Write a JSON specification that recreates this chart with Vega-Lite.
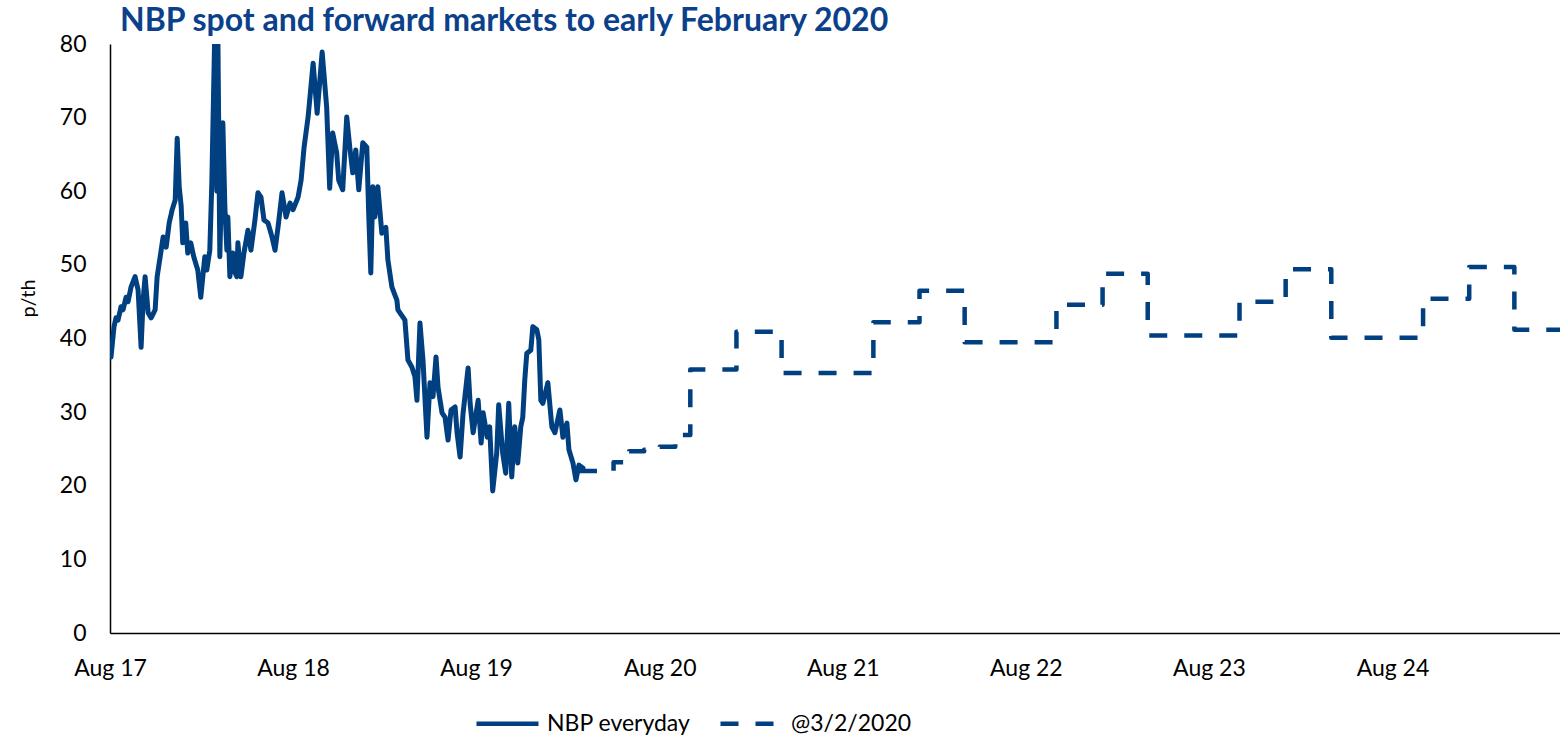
{
  "$schema": "https://vega.github.io/schema/vega-lite/v6.json",
  "width": 1450,
  "height": 589,
  "autosize": {"type": "none"},
  "padding": {"left": 110, "top": 44, "right": 0, "bottom": 105},
  "background": "white",
  "config": {"view": {"stroke": null}, "font": "Lato"},
  "title": {"text": "NBP spot and forward markets to early February 2020", "anchor": "start", "frame": "group", "dx": 10, "offset": -5, "fontSize": 32, "font": "Lato", "fontWeight": "bold", "color": "#0b418a"},
  "data": {"values": [
    {"series": "NBP everyday", "date": "2017-08-03", "value": 37.5},
    {"series": "NBP everyday", "date": "2017-08-09", "value": 41.6},
    {"series": "NBP everyday", "date": "2017-08-13", "value": 42.8},
    {"series": "NBP everyday", "date": "2017-08-17", "value": 42.5},
    {"series": "NBP everyday", "date": "2017-08-23", "value": 44.3},
    {"series": "NBP everyday", "date": "2017-08-27", "value": 43.9},
    {"series": "NBP everyday", "date": "2017-09-02", "value": 45.6},
    {"series": "NBP everyday", "date": "2017-09-06", "value": 45.0},
    {"series": "NBP everyday", "date": "2017-09-12", "value": 47.0},
    {"series": "NBP everyday", "date": "2017-09-20", "value": 48.4},
    {"series": "NBP everyday", "date": "2017-09-26", "value": 46.6},
    {"series": "NBP everyday", "date": "2017-10-02", "value": 38.8},
    {"series": "NBP everyday", "date": "2017-10-06", "value": 45.2},
    {"series": "NBP everyday", "date": "2017-10-10", "value": 48.4},
    {"series": "NBP everyday", "date": "2017-10-16", "value": 43.5},
    {"series": "NBP everyday", "date": "2017-10-22", "value": 42.8},
    {"series": "NBP everyday", "date": "2017-10-30", "value": 43.9},
    {"series": "NBP everyday", "date": "2017-11-03", "value": 48.4},
    {"series": "NBP everyday", "date": "2017-11-09", "value": 51.1},
    {"series": "NBP everyday", "date": "2017-11-15", "value": 53.8},
    {"series": "NBP everyday", "date": "2017-11-21", "value": 52.4},
    {"series": "NBP everyday", "date": "2017-11-27", "value": 55.7},
    {"series": "NBP everyday", "date": "2017-12-03", "value": 57.5},
    {"series": "NBP everyday", "date": "2017-12-09", "value": 58.8},
    {"series": "NBP everyday", "date": "2017-12-13", "value": 67.2},
    {"series": "NBP everyday", "date": "2017-12-17", "value": 60.6},
    {"series": "NBP everyday", "date": "2017-12-21", "value": 57.9},
    {"series": "NBP everyday", "date": "2017-12-24", "value": 53.0},
    {"series": "NBP everyday", "date": "2017-12-30", "value": 55.7},
    {"series": "NBP everyday", "date": "2018-01-03", "value": 51.6},
    {"series": "NBP everyday", "date": "2018-01-09", "value": 53.0},
    {"series": "NBP everyday", "date": "2018-01-15", "value": 51.1},
    {"series": "NBP everyday", "date": "2018-01-23", "value": 49.3},
    {"series": "NBP everyday", "date": "2018-01-29", "value": 45.6},
    {"series": "NBP everyday", "date": "2018-02-06", "value": 51.1},
    {"series": "NBP everyday", "date": "2018-02-10", "value": 49.3},
    {"series": "NBP everyday", "date": "2018-02-16", "value": 52.0},
    {"series": "NBP everyday", "date": "2018-02-20", "value": 61.1},
    {"series": "NBP everyday", "date": "2018-02-26", "value": 82.0},
    {"series": "NBP everyday", "date": "2018-03-02", "value": 60.0},
    {"series": "NBP everyday", "date": "2018-03-04", "value": 82.0},
    {"series": "NBP everyday", "date": "2018-03-08", "value": 51.1},
    {"series": "NBP everyday", "date": "2018-03-14", "value": 69.3},
    {"series": "NBP everyday", "date": "2018-03-18", "value": 57.9},
    {"series": "NBP everyday", "date": "2018-03-22", "value": 52.0},
    {"series": "NBP everyday", "date": "2018-03-24", "value": 56.5},
    {"series": "NBP everyday", "date": "2018-03-28", "value": 48.4},
    {"series": "NBP everyday", "date": "2018-04-03", "value": 51.6},
    {"series": "NBP everyday", "date": "2018-04-07", "value": 49.0},
    {"series": "NBP everyday", "date": "2018-04-11", "value": 48.4},
    {"series": "NBP everyday", "date": "2018-04-13", "value": 53.0},
    {"series": "NBP everyday", "date": "2018-04-19", "value": 48.4},
    {"series": "NBP everyday", "date": "2018-04-25", "value": 51.6},
    {"series": "NBP everyday", "date": "2018-05-03", "value": 54.7},
    {"series": "NBP everyday", "date": "2018-05-09", "value": 52.0},
    {"series": "NBP everyday", "date": "2018-05-17", "value": 56.1},
    {"series": "NBP everyday", "date": "2018-05-23", "value": 59.8},
    {"series": "NBP everyday", "date": "2018-05-29", "value": 59.2},
    {"series": "NBP everyday", "date": "2018-06-04", "value": 56.1},
    {"series": "NBP everyday", "date": "2018-06-12", "value": 55.7},
    {"series": "NBP everyday", "date": "2018-06-20", "value": 53.8},
    {"series": "NBP everyday", "date": "2018-06-26", "value": 52.0},
    {"series": "NBP everyday", "date": "2018-07-02", "value": 55.1},
    {"series": "NBP everyday", "date": "2018-07-10", "value": 59.8},
    {"series": "NBP everyday", "date": "2018-07-18", "value": 56.5},
    {"series": "NBP everyday", "date": "2018-07-26", "value": 58.4},
    {"series": "NBP everyday", "date": "2018-08-01", "value": 57.5},
    {"series": "NBP everyday", "date": "2018-08-11", "value": 59.2},
    {"series": "NBP everyday", "date": "2018-08-17", "value": 61.5},
    {"series": "NBP everyday", "date": "2018-08-23", "value": 66.0},
    {"series": "NBP everyday", "date": "2018-08-31", "value": 70.1},
    {"series": "NBP everyday", "date": "2018-09-10", "value": 77.4},
    {"series": "NBP everyday", "date": "2018-09-18", "value": 70.6},
    {"series": "NBP everyday", "date": "2018-09-28", "value": 78.9},
    {"series": "NBP everyday", "date": "2018-10-07", "value": 71.4},
    {"series": "NBP everyday", "date": "2018-10-13", "value": 60.4},
    {"series": "NBP everyday", "date": "2018-10-19", "value": 67.9},
    {"series": "NBP everyday", "date": "2018-10-27", "value": 65.2},
    {"series": "NBP everyday", "date": "2018-10-31", "value": 61.5},
    {"series": "NBP everyday", "date": "2018-11-08", "value": 60.2},
    {"series": "NBP everyday", "date": "2018-11-16", "value": 70.1},
    {"series": "NBP everyday", "date": "2018-11-22", "value": 66.0},
    {"series": "NBP everyday", "date": "2018-11-28", "value": 62.5},
    {"series": "NBP everyday", "date": "2018-12-04", "value": 65.6},
    {"series": "NBP everyday", "date": "2018-12-10", "value": 60.2},
    {"series": "NBP everyday", "date": "2018-12-18", "value": 66.6},
    {"series": "NBP everyday", "date": "2018-12-26", "value": 66.0},
    {"series": "NBP everyday", "date": "2018-12-30", "value": 56.5},
    {"series": "NBP everyday", "date": "2019-01-03", "value": 48.9},
    {"series": "NBP everyday", "date": "2019-01-07", "value": 60.6},
    {"series": "NBP everyday", "date": "2019-01-11", "value": 56.5},
    {"series": "NBP everyday", "date": "2019-01-17", "value": 60.6},
    {"series": "NBP everyday", "date": "2019-01-25", "value": 54.3},
    {"series": "NBP everyday", "date": "2019-02-02", "value": 55.1},
    {"series": "NBP everyday", "date": "2019-02-06", "value": 50.7},
    {"series": "NBP everyday", "date": "2019-02-14", "value": 47.0},
    {"series": "NBP everyday", "date": "2019-02-24", "value": 45.2},
    {"series": "NBP everyday", "date": "2019-02-26", "value": 43.9},
    {"series": "NBP everyday", "date": "2019-03-12", "value": 42.5},
    {"series": "NBP everyday", "date": "2019-03-18", "value": 37.1},
    {"series": "NBP everyday", "date": "2019-03-26", "value": 36.1},
    {"series": "NBP everyday", "date": "2019-04-01", "value": 34.8},
    {"series": "NBP everyday", "date": "2019-04-05", "value": 31.6},
    {"series": "NBP everyday", "date": "2019-04-11", "value": 42.1},
    {"series": "NBP everyday", "date": "2019-04-17", "value": 37.1},
    {"series": "NBP everyday", "date": "2019-04-25", "value": 26.6},
    {"series": "NBP everyday", "date": "2019-05-01", "value": 34.0},
    {"series": "NBP everyday", "date": "2019-05-07", "value": 32.1},
    {"series": "NBP everyday", "date": "2019-05-13", "value": 37.5},
    {"series": "NBP everyday", "date": "2019-05-17", "value": 33.4},
    {"series": "NBP everyday", "date": "2019-05-25", "value": 29.9},
    {"series": "NBP everyday", "date": "2019-05-31", "value": 29.3},
    {"series": "NBP everyday", "date": "2019-06-06", "value": 26.2},
    {"series": "NBP everyday", "date": "2019-06-12", "value": 30.3},
    {"series": "NBP everyday", "date": "2019-06-20", "value": 30.7},
    {"series": "NBP everyday", "date": "2019-06-24", "value": 27.2},
    {"series": "NBP everyday", "date": "2019-06-30", "value": 23.9},
    {"series": "NBP everyday", "date": "2019-07-06", "value": 29.9},
    {"series": "NBP everyday", "date": "2019-07-16", "value": 36.0},
    {"series": "NBP everyday", "date": "2019-07-20", "value": 31.2},
    {"series": "NBP everyday", "date": "2019-07-26", "value": 27.2},
    {"series": "NBP everyday", "date": "2019-08-05", "value": 31.6},
    {"series": "NBP everyday", "date": "2019-08-11", "value": 25.8},
    {"series": "NBP everyday", "date": "2019-08-15", "value": 29.9},
    {"series": "NBP everyday", "date": "2019-08-23", "value": 26.6},
    {"series": "NBP everyday", "date": "2019-08-28", "value": 28.0},
    {"series": "NBP everyday", "date": "2019-09-03", "value": 19.3},
    {"series": "NBP everyday", "date": "2019-09-11", "value": 24.4},
    {"series": "NBP everyday", "date": "2019-09-15", "value": 31.0},
    {"series": "NBP everyday", "date": "2019-09-23", "value": 24.4},
    {"series": "NBP everyday", "date": "2019-09-29", "value": 21.7},
    {"series": "NBP everyday", "date": "2019-10-05", "value": 31.2},
    {"series": "NBP everyday", "date": "2019-10-11", "value": 21.2},
    {"series": "NBP everyday", "date": "2019-10-17", "value": 28.0},
    {"series": "NBP everyday", "date": "2019-10-23", "value": 23.1},
    {"series": "NBP everyday", "date": "2019-10-29", "value": 28.0},
    {"series": "NBP everyday", "date": "2019-11-02", "value": 29.3},
    {"series": "NBP everyday", "date": "2019-11-06", "value": 34.4},
    {"series": "NBP everyday", "date": "2019-11-10", "value": 38.0},
    {"series": "NBP everyday", "date": "2019-11-18", "value": 38.4},
    {"series": "NBP everyday", "date": "2019-11-22", "value": 41.6},
    {"series": "NBP everyday", "date": "2019-11-30", "value": 41.2},
    {"series": "NBP everyday", "date": "2019-12-04", "value": 39.8},
    {"series": "NBP everyday", "date": "2019-12-08", "value": 31.6},
    {"series": "NBP everyday", "date": "2019-12-12", "value": 31.2},
    {"series": "NBP everyday", "date": "2019-12-22", "value": 34.0},
    {"series": "NBP everyday", "date": "2019-12-30", "value": 28.0},
    {"series": "NBP everyday", "date": "2020-01-05", "value": 27.2},
    {"series": "NBP everyday", "date": "2020-01-15", "value": 30.3},
    {"series": "NBP everyday", "date": "2020-01-21", "value": 26.6},
    {"series": "NBP everyday", "date": "2020-01-29", "value": 28.5},
    {"series": "NBP everyday", "date": "2020-02-02", "value": 24.9},
    {"series": "NBP everyday", "date": "2020-02-10", "value": 23.1},
    {"series": "NBP everyday", "date": "2020-02-16", "value": 20.8},
    {"series": "NBP everyday", "date": "2020-02-22", "value": 22.8},
    {"series": "NBP everyday", "date": "2020-03-01", "value": 22.4},
    {"series": "@3/2/2020", "date": "2020-02-22", "value": 22.0},
    {"series": "@3/2/2020", "date": "2020-05-01", "value": 23.2},
    {"series": "@3/2/2020", "date": "2020-06-01", "value": 24.7},
    {"series": "@3/2/2020", "date": "2020-07-01", "value": 24.9},
    {"series": "@3/2/2020", "date": "2020-08-01", "value": 25.3},
    {"series": "@3/2/2020", "date": "2020-09-01", "value": 26.9},
    {"series": "@3/2/2020", "date": "2020-10-01", "value": 35.8},
    {"series": "@3/2/2020", "date": "2021-01-01", "value": 40.9},
    {"series": "@3/2/2020", "date": "2021-04-01", "value": 35.3},
    {"series": "@3/2/2020", "date": "2021-10-01", "value": 42.2},
    {"series": "@3/2/2020", "date": "2022-01-01", "value": 46.5},
    {"series": "@3/2/2020", "date": "2022-04-01", "value": 39.5},
    {"series": "@3/2/2020", "date": "2022-10-01", "value": 44.6},
    {"series": "@3/2/2020", "date": "2023-01-01", "value": 48.8},
    {"series": "@3/2/2020", "date": "2023-04-01", "value": 40.4},
    {"series": "@3/2/2020", "date": "2023-10-01", "value": 45.0},
    {"series": "@3/2/2020", "date": "2024-01-01", "value": 49.4},
    {"series": "@3/2/2020", "date": "2024-04-01", "value": 40.1},
    {"series": "@3/2/2020", "date": "2024-10-01", "value": 45.4},
    {"series": "@3/2/2020", "date": "2025-01-01", "value": 49.7},
    {"series": "@3/2/2020", "date": "2025-04-01", "value": 41.2},
    {"series": "@3/2/2020", "date": "2025-07-01", "value": 41.2}
  ]},
  "encoding": {
    "x": {
      "field": "date", "type": "temporal",
      "scale": {"type": "utc", "domain": [{"year": 2017, "month": 8, "date": 1, "utc": true}, {"year": 2025, "month": 7, "date": 1, "utc": true}]},
      "axis": {
        "title": null, "format": "%b %y", "labelFlush": false, "labelOverlap": false,
        "values": [
          {"year": 2017, "month": 8, "date": 1, "utc": true},
          {"year": 2018, "month": 8, "date": 1, "utc": true},
          {"year": 2019, "month": 8, "date": 1, "utc": true},
          {"year": 2020, "month": 8, "date": 1, "utc": true},
          {"year": 2021, "month": 8, "date": 1, "utc": true},
          {"year": 2022, "month": 8, "date": 1, "utc": true},
          {"year": 2023, "month": 8, "date": 1, "utc": true},
          {"year": 2024, "month": 8, "date": 1, "utc": true}
        ],
        "ticks": false, "grid": false, "labelPadding": 24, "labelFontSize": 23, "labelColor": "#000000", "labelFont": "Lato",
        "domainColor": "#000000", "domainWidth": 1.5
      }
    },
    "y": {
      "field": "value", "type": "quantitative",
      "scale": {"domain": [0, 80], "nice": false, "zero": true},
      "axis": {
        "title": "p/th", "titleFontSize": 20, "titleFontWeight": "normal", "titleColor": "#000000", "titleFont": "Lato",
        "titleX": -82, "titleY": 254, "titleBaseline": "middle", "titleAlign": "center", "titleAngle": -90,
        "values": [0, 10, 20, 30, 40, 50, 60, 70, 80],
        "ticks": false, "grid": false, "labelPadding": 24, "labelFontSize": 23, "labelColor": "#000000", "labelFont": "Lato",
        "domainColor": "#000000", "domainWidth": 1.5
      }
    },
    "color": {
      "field": "series", "type": "nominal",
      "scale": {"domain": ["NBP everyday", "@3/2/2020"], "range": ["#003f80", "#003f80"]},
      "legend": {
        "title": null, "orient": "none", "direction": "horizontal", "legendX": 364, "legendY": 646,
        "symbolType": "stroke", "symbolSize": 3844, "symbolStrokeWidth": 4.5,
        "labelFontSize": 23, "labelFont": "Lato", "labelColor": "#000000", "labelOffset": 6, "columnPadding": 20
      }
    },
    "strokeDash": {
      "field": "series", "type": "nominal",
      "scale": {"domain": ["NBP everyday", "@3/2/2020"], "range": [[1, 0], [18, 17]]},
      "legend": {
        "title": null, "orient": "none", "direction": "horizontal", "legendX": 364, "legendY": 646,
        "symbolType": "stroke", "symbolSize": 3844, "symbolStrokeWidth": 4.5,
        "labelFontSize": 23, "labelFont": "Lato", "labelColor": "#000000", "labelOffset": 6, "columnPadding": 20
      }
    }
  },
  "layer": [
    {
      "transform": [{"filter": "datum.series === 'NBP everyday'"}],
      "mark": {"type": "line", "strokeWidth": 5, "strokeCap": "round", "strokeJoin": "round", "clip": true}
    },
    {
      "transform": [{"filter": "datum.series === '@3/2/2020'"}],
      "mark": {"type": "line", "interpolate": "step-after", "strokeWidth": 4.5, "strokeCap": "butt", "strokeJoin": "round", "clip": true}
    }
  ]
}
